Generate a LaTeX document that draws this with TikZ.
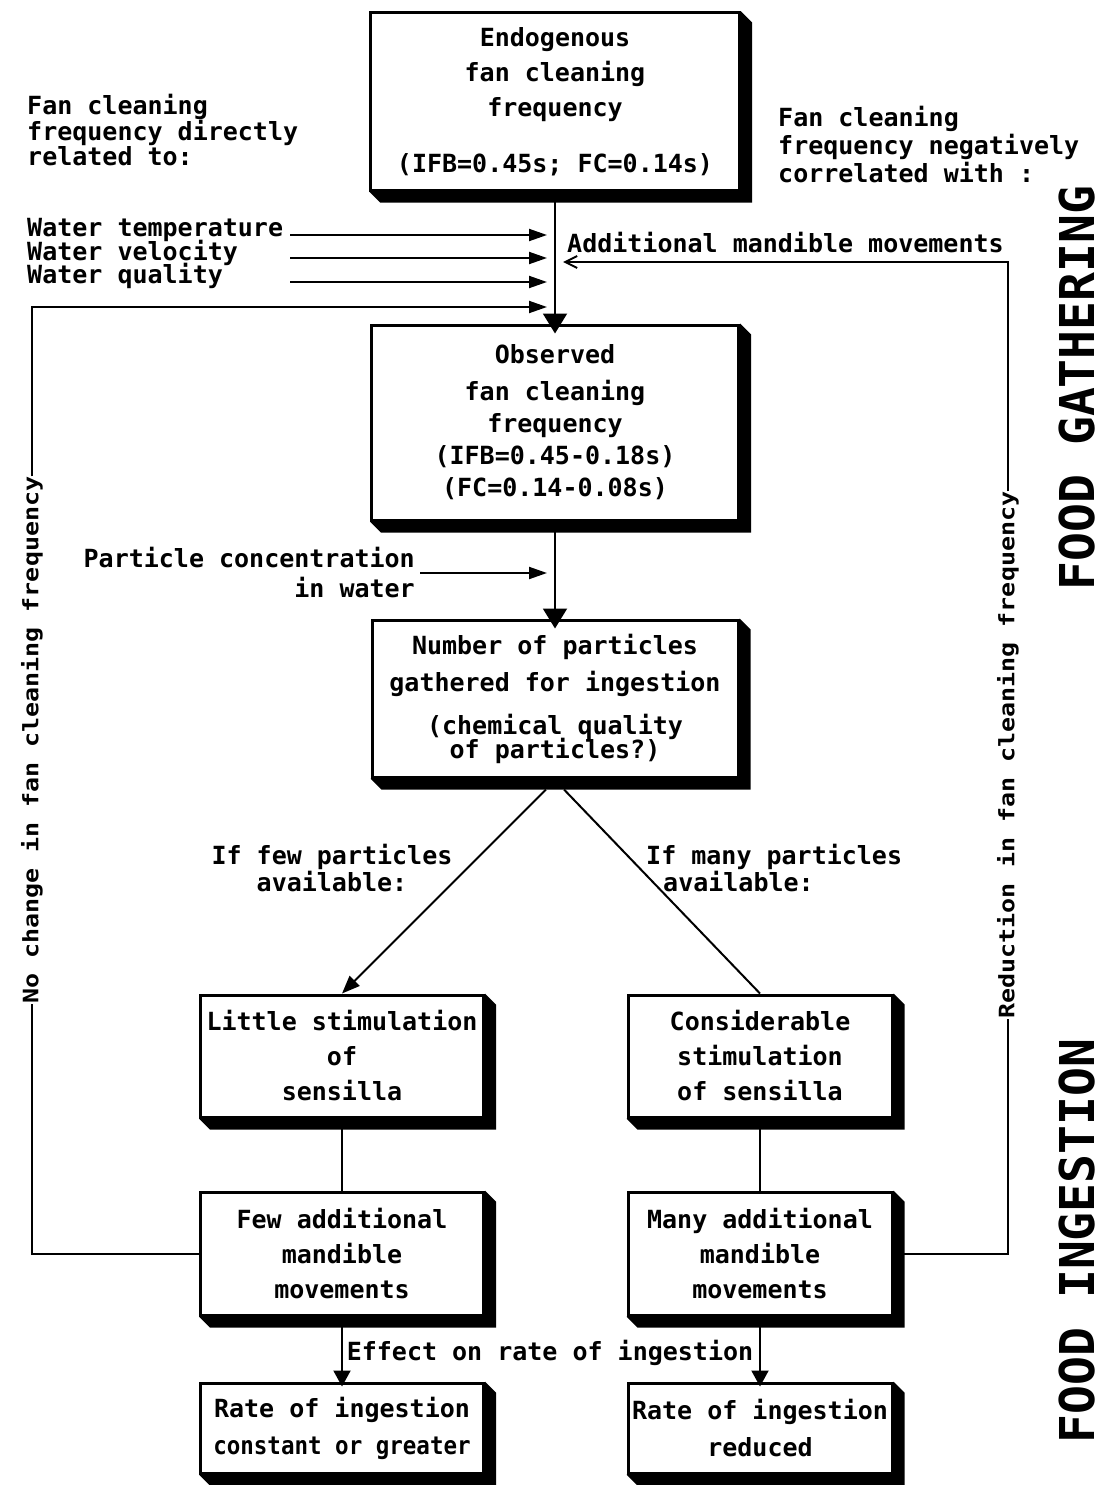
\documentclass[tikz,border=0pt]{standalone}
\usepackage{fontspec}
\newfontfamily\plotfont{DejaVu Sans Mono}
\usetikzlibrary{arrows.meta,calc}
\begin{document}
\begin{tikzpicture}[x=1pt,y=-1pt,
  txt/.style={font=\plotfont\bfseries\fontsize{25}{30}\selectfont, inner sep=0pt},
  box/.style={draw, line width=3pt, fill=white, align=center, inner sep=0pt,
              font=\plotfont\bfseries\fontsize{25}{35}\selectfont},
  conn/.style={line width=2pt},
  bigarr/.style={-{Triangle[length=20pt,width=24pt]}},
  smallarr/.style={-{Triangle[length=18pt,width=12pt]}},
  midarr/.style={-{Triangle[length=16pt,width=17pt]}},
  diagarr/.style={-{Triangle[length=18pt,width=14pt]}},
  thinarr/.style={-{Straight Barb[length=12pt,width=12pt,line width=2pt]}},
  big/.style={font=\plotfont\bfseries\fontsize{48}{48}\selectfont, inner sep=0pt, rotate=90,
              text height=35pt, text depth=0pt}
]
\useasboundingbox (0,0) rectangle (1106,1485);

% ---------- boxes ----------
\node[box, minimum width=369pt, minimum height=177pt] (b1) at (555,101.5)
  {Endogenous\\fan cleaning\\frequency\\[21pt](IFB=0.45s; FC=0.14s)};
\node[box, minimum width=367pt, minimum height=195pt,
      font=\plotfont\bfseries\fontsize{25}{32}\selectfont] (b2) at (555,422.5)
  {Observed\\[5pt]fan cleaning\\frequency\\(IFB=0.45-0.18s)\\(FC=0.14-0.08s)};
\node[box, minimum width=366pt, minimum height=157pt,
      font=\plotfont\bfseries\fontsize{25}{30}\selectfont] (b3) at (555,698.5)
  {Number of particles\\[7pt]gathered for ingestion\\[13pt](chemical quality\\[-6pt]of particles?)};
\node[box, minimum width=283pt, minimum height=122pt] (little) at (342,1056)
  {Little stimulation\\of\\sensilla};
\node[box, minimum width=264pt, minimum height=122pt] (consid) at (760,1056)
  {Considerable\\stimulation\\of sensilla};
\node[box, minimum width=283pt, minimum height=123pt] (few) at (342,1253.5)
  {Few additional\\mandible\\movements};
\node[box, minimum width=264pt, minimum height=123pt] (many) at (760,1253.5)
  {Many additional\\mandible\\movements};
\node[box, minimum width=283pt, minimum height=90pt,
      font=\plotfont\bfseries\fontsize{25}{37}\selectfont] (rate1) at (342,1428)
  {Rate of ingestion\\\scalebox{0.9}[1]{constant or greater}};
\node[box, minimum width=264pt, minimum height=90pt,
      font=\plotfont\bfseries\fontsize{25}{37}\selectfont] (rate2) at (760,1428)
  {Rate of ingestion\\reduced};

% ---------- 3D shadows ----------
\foreach \n in {b1,b2,b3,little,consid,few,many,rate1,rate2}{
  \fill (\n.south west) -- ++(11,11) -- ($(\n.south east)+(11,11)$)
        -- ($(\n.north east)+(11,11)$) -- (\n.north east) -- (\n.south east) -- cycle;
}

% ---------- side labels ----------
\node[txt, align=left, anchor=west, font=\plotfont\bfseries\fontsize{25}{25}\selectfont] (dir) at (27,130)
  {Fan cleaning\\frequency directly\\related to:};
\node[txt, align=left, anchor=west, font=\plotfont\bfseries\fontsize{25}{28}\selectfont] (neg) at (778,145)
  {Fan cleaning\\frequency negatively\\correlated with :};
\node[txt, anchor=west] (wt) at (27,230) {Water temperature};
\node[txt, anchor=west] (wv) at (27,253) {Water velocity};
\node[txt, anchor=west] (wq) at (27,276) {Water quality};
\node[txt, anchor=west] (am) at (567,243) {Additional mandible movements};
\node[txt, align=right, anchor=east] (pc) at (415,573) {Particle concentration\\in water};
\node[txt, align=center, font=\plotfont\bfseries\fontsize{25}{27}\selectfont] (iffew) at (332,868)
  {If few particles\\available:};
\node[txt, align=left, anchor=west, font=\plotfont\bfseries\fontsize{25}{27}\selectfont] (ifmany) at (646,868)
  {If many particles\\\hspace*{17pt}available:};
\node[txt] (effect) at (550,1353) {Effect on rate of ingestion};
\node[txt, rotate=90] (nochange) at (32,740)
  {\scalebox{1}[0.85]{No change in fan cleaning frequency}};
\node[txt, rotate=90] (red) at (1008,755)
  {\scalebox{1}[0.85]{Reduction in fan cleaning frequency}};
\node[big] (fg) at (1076.5,388) {FOOD GATHERING};
\node[big] (fi) at (1076.5,1241) {FOOD INGESTION};

% ---------- connector end points ----------
\coordinate (wtS) at (290,235); \coordinate (wtE) at (547,235);
\coordinate (wvS) at (290,258); \coordinate (wvE) at (547,258);
\coordinate (wqS) at (290,282); \coordinate (wqE) at (547,282);
\coordinate (fbE) at (547,307);
\coordinate (amE) at (563,262);
\coordinate (pcE) at (547,573);

% ---------- connectors ----------
\draw[conn,bigarr,shorten >=-10pt] (b1.south) -- (b2.north);
\draw[conn,bigarr,shorten >=-10pt] (b2.south) -- (b3.north);
\draw[conn,smallarr] (wtS) -- (wtE);
\draw[conn,smallarr] (wvS) -- (wvE);
\draw[conn,smallarr] (wqS) -- (wqE);
\draw[conn,smallarr] ([xshift=5pt]pc.east) -- (pcE);
\draw[conn,diagarr] ($(b3.south)+(-9,11)$) -- (little.north);
\draw[conn] ($(b3.south)+(9,11)$) -- (consid.north);
\draw[conn] (little.south) -- (few.north);
\draw[conn] (consid.south) -- (many.north);
\draw[conn,midarr,shorten >=-5pt] (few.south) -- (rate1.north);
\draw[conn,midarr,shorten >=-5pt] (many.south) -- (rate2.north);
\draw[conn] (few.west) -| (nochange.west);
\draw[conn,smallarr] (nochange.east) |- (fbE);
\draw[conn] (many.east) -| (red.west);
\draw[conn,thinarr] (red.east) |- (amE);
\end{tikzpicture}
\end{document}
